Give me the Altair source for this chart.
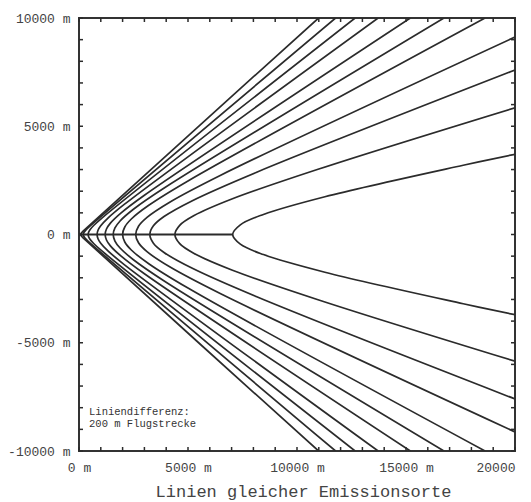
import altair as alt
import pandas as pd

# Upper branches of the curves (lower branches are mirror images)
branch_x = [
    [7050, 7400, 8460, 11280, 17625, 20000],
    [4400, 4620, 5280, 7040, 11000, 20000],
    [3250, 3413, 3900, 5200, 8125, 20000],
    [2600, 2730, 3120, 4160, 6500, 20000],
    [2000, 2100, 2400, 3200, 5000, 18626],
    [1570, 1649, 1884, 2512, 3925, 16741],
    [1200, 1260, 1440, 1920, 3000, 15200],
    [830, 872, 996, 1328, 2075, 13722],
    [420, 441, 504, 672, 1050, 12665],
    [200, 210, 240, 320, 500, 11770],
    [80, 84, 96, 128, 200, 10990],
]
branch_y = [
    [0, 447, 926, 1744, 3198, 3706],
    [0, 422, 875, 1649, 3024, 5853],
    [0, 400, 829, 1563, 2866, 7598],
    [0, 383, 793, 1494, 2740, 9122],
    [0, 346, 716, 1349, 2474, 10000],
    [0, 301, 625, 1177, 2158, 10000],
    [0, 253, 525, 989, 1815, 10000],
    [0, 194, 402, 757, 1388, 10000],
    [0, 106, 220, 415, 761, 10000],
    [0, 54, 113, 212, 389, 10000],
    [0, 23, 48, 91, 167, 10000],
]
axis_segment_x = [0, 7050]
x_label_values = [0, 5000, 10000, 15000, 20000]
y_label_values = [-10000, -5000, 0, 5000, 10000]
x_ticks = [0, 1000, 2000, 3000, 4000, 5000, 6000, 7000, 8000, 9000, 10000,
           11000, 12000, 13000, 14000, 15000, 16000, 17000, 18000, 19000, 20000]
y_ticks = [-10000, -9000, -8000, -7000, -6000, -5000, -4000, -3000, -2000, -1000, 0,
           1000, 2000, 3000, 4000, 5000, 6000, 7000, 8000, 9000, 10000]
note_lines = ["Liniendifferenz:", "200 m Flugstrecke"]
note_x = [460, 460]
note_y = [-8200, -8760]

W, H = 436, 433
FONT = "Liberation Mono"
INK = "#2b2b2b"

rows = []
for c, (xs_, ys_) in enumerate(zip(branch_x, branch_y)):
    pts = [(x, -y) for x, y in zip(xs_[::-1], ys_[::-1])] + [(x, y) for x, y in zip(xs_[1:], ys_[1:])]
    for i, (x, y) in enumerate(pts):
        rows.append({"curve": c, "i": i, "x": x, "y": y})
curves = pd.DataFrame(rows)

xs = alt.Scale(domain=[0, 20000], nice=False, zero=False)
ys = alt.Scale(domain=[-10000, 10000], nice=False, zero=False)

x_axis = alt.Axis(
    values=x_label_values,
    labelExpr="datum.value == 20000 ? '20000' : datum.value + ' m'",
    labelAlign=alt.condition("datum.value == 20000", alt.value("right"), alt.value("center")),
    grid=False, ticks=False,
    domain=False, labelFont=FONT, labelFontSize=13, labelColor="#444",
    labelPadding=10, labelOverlap=False, labelFlush=False,
    title="Linien gleicher Emissionsorte", titleFont=FONT, titleFontSize=17,
    titleFontWeight="normal", titleColor="#444", titleBaseline="alphabetic",
    titleY=45, titleX=224)
y_axis = alt.Axis(
    values=y_label_values, labelExpr="datum.value + ' m'", grid=False, ticks=False,
    domain=False, labelFont=FONT, labelFontSize=13, labelColor="#444",
    labelPadding=9, labelOverlap=False, labelFlush=False, title="")

lines = alt.Chart(curves).mark_line(
    interpolate="catmull-rom", color=INK, strokeWidth=1.7, clip=True
).encode(
    x=alt.X("x:Q", scale=xs, axis=x_axis),
    y=alt.Y("y:Q", scale=ys, axis=y_axis),
    detail="curve:N",
    order="i:Q",
)

seg = alt.Chart(pd.DataFrame({"x": [axis_segment_x[0]], "x1": [axis_segment_x[1]], "y": [0]})).mark_rule(
    color=INK, strokeWidth=2
).encode(x=alt.X("x:Q", scale=xs, axis=x_axis), x2="x1:Q", y=alt.Y("y:Q", scale=ys, axis=y_axis))

xt = pd.DataFrame({"x": x_ticks})
yt = pd.DataFrame({"y": y_ticks})
tick_style = dict(color=INK, strokeWidth=1.5)
t_bottom = alt.Chart(xt).mark_rule(**tick_style).encode(
    x=alt.X("x:Q", scale=xs, axis=x_axis), y=alt.value(H - 4), y2=alt.value(H))
t_top = alt.Chart(xt).mark_rule(**tick_style).encode(
    x=alt.X("x:Q", scale=xs, axis=x_axis), y=alt.value(0), y2=alt.value(4))
t_left = alt.Chart(yt).mark_rule(**tick_style).encode(
    y=alt.Y("y:Q", scale=ys, axis=y_axis), x=alt.value(0), x2=alt.value(4))
t_right = alt.Chart(yt).mark_rule(**tick_style).encode(
    y=alt.Y("y:Q", scale=ys, axis=y_axis), x=alt.value(W - 4), x2=alt.value(W))

note = alt.Chart(pd.DataFrame({"t": note_lines, "x": note_x, "y": note_y})).mark_text(
    align="left", baseline="middle", font=FONT, fontSize=10.5, color="#333"
).encode(x=alt.X("x:Q", scale=xs, axis=x_axis), y=alt.Y("y:Q", scale=ys, axis=y_axis), text="t:N")

chart = alt.layer(lines, seg, t_bottom, t_top, t_left, t_right, note).properties(
    width=W, height=H,
    padding={"left": 71, "top": 10, "right": 8, "bottom": 51},
    autosize=alt.AutoSizeParams(type="none"),
    background="white",
).configure_view(stroke="#333", strokeWidth=2)

chart.save("out.html", embed_options={"renderer": "svg", "actions": False})
